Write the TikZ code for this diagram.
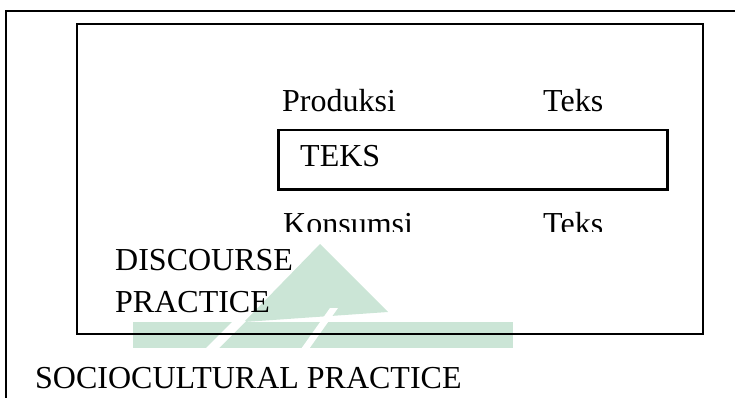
\documentclass[tikz,border=0pt]{standalone}
\usepackage{fontspec}
\setmainfont{Liberation Serif}
\definecolor{wm}{RGB}{203,229,214}
\begin{document}
\begin{tikzpicture}[x=1pt,y=-1pt,
  lbl/.style={anchor=base west,inner sep=0pt,font=\fontsize{32}{38}\selectfont},
  frame/.style={draw=black,line width=2.5pt}]
\useasboundingbox (0,0) rectangle (735,398);
\clip (0,0) rectangle (735,398);
% faint watermark
\fill[wm] (133,322) rectangle (513,348);
\fill[wm] (320,244) -- (388,312) -- (244,322) -- cycle;
\fill[white] (205,349) -- (218,349) -- (246,321) -- (233,321) -- cycle;
\fill[white] (301,349) -- (309,349) -- (338,308) -- (330,308) -- cycle;
% frames
\coordinate (outerNW) at (6,11);
\coordinate (outerSE) at (760,420);
\coordinate (innerNW) at (77,24);
\coordinate (innerSE) at (703,334);
\draw[frame] (outerNW) rectangle (outerSE);
\draw[frame] (innerNW) rectangle (innerSE);
\node[frame,anchor=north west,minimum width=389pt,minimum height=59pt,inner sep=0pt] (box) at (277,129) {};
% texts
\node[lbl] (prod) at (282,112) {Produksi};
\node[lbl] (tekstop) at (543,112) {Teks};
\node[lbl] (teks) at (300,167) {TEKS};
\begin{scope}
\clip (0,0) rectangle (735,231);
\node[lbl] (kons) at (283,234) {Konsumsi};
\node[lbl] (teksbot) at (543,234) {Teks};
\end{scope}
\node[lbl] (disc) at (115,270) {DISCOURSE};
\node[lbl] (prac) at (115,312) {PRACTICE};
\node[lbl] (socio) at (35,388) {SOCIOCULTURAL PRACTICE};
\end{tikzpicture}
\end{document}
